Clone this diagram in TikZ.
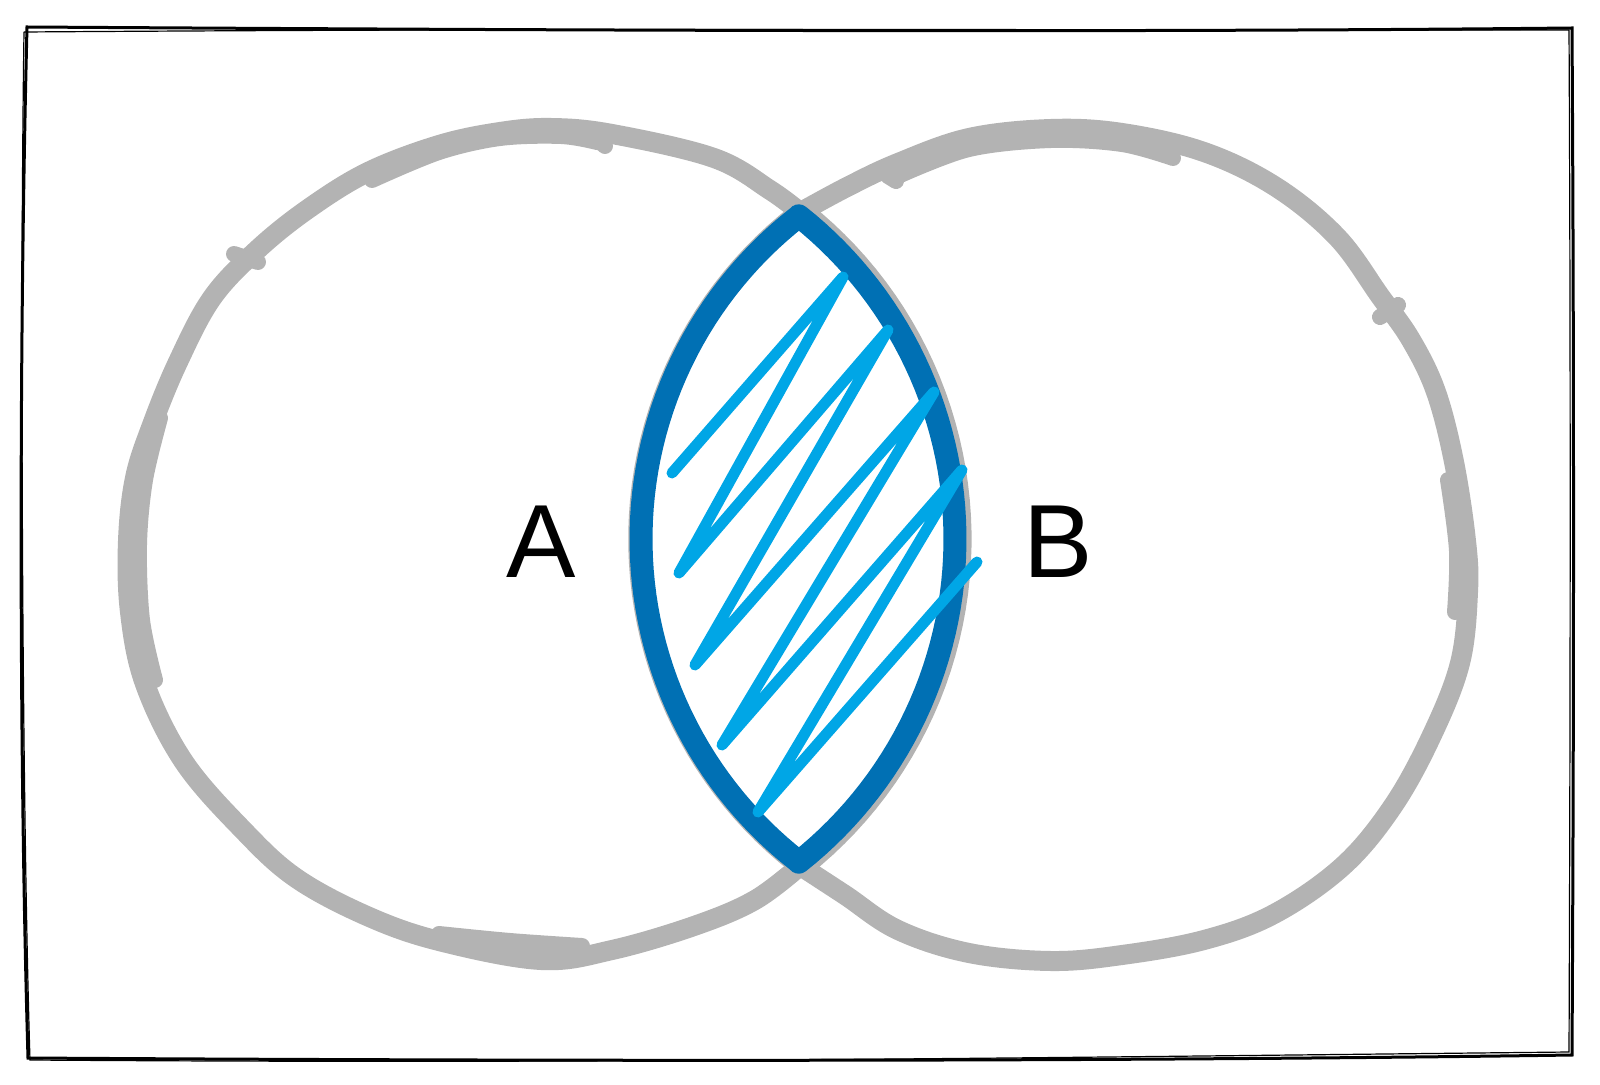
\documentclass[tikz,border=0pt]{standalone}
\usepackage{fontspec}
\setmainfont{Liberation Sans}
\definecolor{sketchgray}{RGB}{179,179,179}
\definecolor{lensblue}{RGB}{0,112,180}
\definecolor{hatchblue}{RGB}{0,166,230}
\begin{document}
\begin{tikzpicture}[x=0.5pt,y=-0.5pt,
  graystroke/.style={draw=sketchgray,line width=10pt,line cap=round,line join=round},
  graythin/.style={draw=sketchgray,line width=8pt,line cap=round,line join=round},
  lensline/.style={draw=lensblue,line width=11.5pt,line join=round,line cap=round},
  hatchline/.style={draw=hatchblue,line width=5.5pt,line cap=round,line join=round},
  frameline/.style={draw=black,line width=1.5pt},
  framethin/.style={draw=black,line width=0.6pt},
  settext/.style={font=\fontsize{52}{60}\selectfont,text=black,inner sep=0pt}]
\useasboundingbox (0,0) rectangle (1600,1085);
% frame
\draw[frameline] (27,27) .. controls (500,30) and (1100,33) .. (1572,28)
  .. controls (1574,350) and (1574,700) .. (1572,1055)
  .. controls (1100,1062) and (500,1061) .. (28,1058)
  .. controls (19,750) and (19,350) .. (27,27) -- cycle;
\draw[framethin] (24,32) .. controls (600,28) and (1000,30) .. (1569,30)
  .. controls (1571,400) and (1570,800) .. (1569,1052)
  .. controls (1000,1058) and (600,1064) .. (30,1060)
  .. controls (22,800) and (20,300) .. (24,32);
% circle A
\draw[graystroke] plot[smooth,tension=0.6] coordinates {
  (801,865) (755,900) (694,926) (612,950) (541,960) (439,941) (367,916) (296,878)
  (243,830) (184,762) (145,684) (130,612) (128,541) (135,478) (152,425)
  (178,362) (212,298) (257,250) (308,209) (368,172) (439,145) (500,132)
  (551,128) (612,134) (714,158) (770,190) (801,213)}
  -- plot[domain=-51.6:51.6,samples=50] ({542.6+419*cos(\x)},{539+419*sin(\x)}) -- cycle;
\draw[graythin] plot[smooth,tension=0.55] coordinates {
  (372,180) (439,152) (500,138) (561,136) (597,142)};
\draw[graythin] plot[smooth,tension=0.55] coordinates {
  (160,418) (145,480) (139,545) (142,620) (155,680)};
\draw[graythin] plot[smooth,tension=0.55] coordinates {
  (439,934) (510,941) (582,946)};
\draw[graythin] (234,254) -- (258,262);
\draw[graythin] (598,140) -- (605,146);
% circle B
\draw[graystroke] plot[smooth,tension=0.6] coordinates {
  (799,213) (847,187) (898,163) (969,138) (1051,129) (1122,133) (1204,152)
  (1276,187) (1337,237) (1380,296) (1411,340) (1436,392) (1454,462)
  (1466,541) (1468,592) (1460,663) (1432,735) (1393,806) (1343,866)
  (1274,914) (1204,940) (1122,955) (1051,961) (969,953) (898,930)
  (845,895) (799,865)}
  -- plot[domain=127.9:232.1,samples=50] ({1050.2+412*cos(\x)},{539+412*sin(\x)}) -- cycle;
\draw[graythin] plot[smooth,tension=0.55] coordinates {
  (898,176) (969,149) (1051,140) (1122,144) (1173,158)};
\draw[graythin] plot[smooth,tension=0.55] coordinates {
  (1448,480) (1457,551) (1455,612)};
\draw[graythin] (888,176) -- (896,181);
\draw[graythin] (1380,317) -- (1398,305);
% lens
\draw[lensline] plot[domain=232.1:127.9,samples=60] ({1050.2+409.2*cos(\x)},{539+409.2*sin(\x)})
  -- plot[domain=51.6:-51.6,samples=60] ({542.6+412.4*cos(\x)},{539+412.4*sin(\x)}) -- cycle;
% hatch
\draw[hatchline] (672,473) -- (843,277) -- (679,573) -- (888,330) -- (695,665)
  -- (934,392) -- (722,745) -- (962,470) -- (758,812) -- (977,562);
% labels
\node[settext] (A) at (541,542) {A};
\node[settext] (B) at (1058,542) {B};
\end{tikzpicture}
\end{document}
